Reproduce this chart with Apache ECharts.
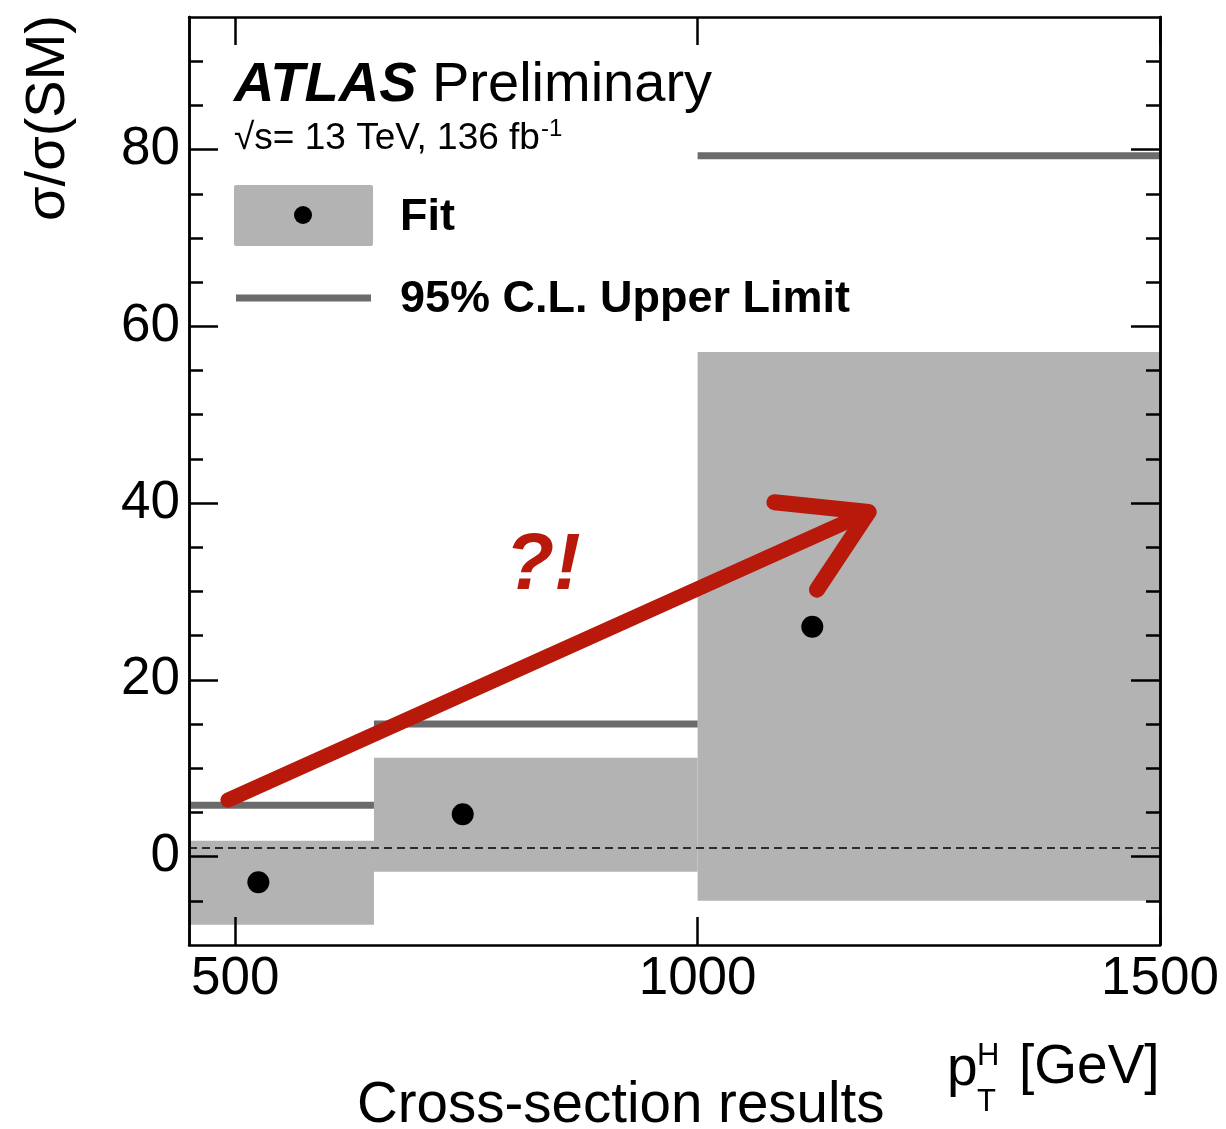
<!DOCTYPE html>
<html>
<head>
<meta charset="utf-8">
<script src="https://cdn.jsdelivr.net/npm/echarts@6/dist/echarts.min.js"></script>
<style>
  html, body { margin: 0; padding: 0; background: #fff; overflow: hidden; }
  #chart { width: 1226px; height: 1129px; }
</style>
</head>
<body>
<div id="chart"></div>
<script>
// pT(H) bins [GeV] and fitted signal strengths per bin
const BIN_EDGES = [450, 650, 1000, 1500];
const FIT_X = [525, 746, 1124];
const FIT_VAL = [-2.9, 4.8, 26.0];
const BAND_LO = [-7.7, -1.7, -5.0];
const BAND_HI = [1.8, 11.2, 57.1];
const LIMIT_95 = [5.8, 15.0, 79.3];
const SM_REF = 1;

// axis ticks
const X_TICKS = [500, 1000, 1500];
const Y_TICKS = [0, 20, 40, 60, 80];
const Y_MINOR = [-5, 5, 10, 15, 25, 30, 35, 45, 50, 55, 65, 70, 75, 85, 90];

// hand-drawn annotation arrow (data space)
const ARROW_SHAFT = [[492, 6.4], [1185, 39.0]];
const ARROW_HEAD = [[1083, 40.1], [1185, 39.0], [1129, 30.2]];

const FONT = '"Liberation Sans", Arial, Helvetica, sans-serif';
const BAND_COLOR = '#b3b3b3';
const LIMIT_COLOR = '#6b6b6b';
const RED = '#b8190b';

const bandData = BAND_LO.map((lo, i) => [BIN_EDGES[i], BIN_EDGES[i + 1], lo, BAND_HI[i]]);
const limitData = LIMIT_95.map((v, i) => [BIN_EDGES[i], BIN_EDGES[i + 1], v]);
const fitData = FIT_VAL.map((v, i) => [FIT_X[i], v]);

const X_MIN = 450, X_MAX = 1500, Y_MIN = -10, Y_MAX = 95;
const axisLineStyle = { color: '#000', width: 2.5 };

// text widths for placing the superscript after the luminosity line
const measure = document.createElement('canvas').getContext('2d');
function textWidth(str, size) {
  measure.font = size + 'px ' + FONT;
  return measure.measureText(str).width;
}
const LUMI_TEXT = '\u221As= 13 TeV, 136 fb';
const LUMI_SIZE = 37;
const LUMI_X = 234;
const lumiEnd = LUMI_X + textWidth(LUMI_TEXT, LUMI_SIZE);

function xAxisDef(pos, showLabel) {
  return {
    type: 'value', position: pos, min: X_MIN, max: X_MAX, z: 5,
    axisLine: { show: true, onZero: false, lineStyle: axisLineStyle },
    axisTick: { show: true, inside: true, length: 28, customValues: X_TICKS, lineStyle: { color: '#000', width: 2.5 } },
    axisLabel: { show: showLabel, customValues: X_TICKS, formatter: v => String(v), fontSize: 53, color: '#000', fontFamily: FONT, margin: 8 },
    splitLine: { show: false }
  };
}
function yAxisDef(pos, ticks, len, showLabel) {
  return {
    type: 'value', position: pos, min: Y_MIN, max: Y_MAX, z: 5,
    axisLine: { show: true, onZero: false, lineStyle: axisLineStyle },
    axisTick: { show: true, inside: true, length: len, customValues: ticks, lineStyle: { color: '#000', width: 2.5 } },
    axisLabel: { show: showLabel, customValues: Y_TICKS, formatter: v => String(v), fontSize: 53, color: '#000', fontFamily: FONT, margin: 9 },
    splitLine: { show: false }
  };
}

const chart = echarts.init(document.getElementById('chart'));
chart.setOption({
  animation: false,
  backgroundColor: '#fff',
  grid: { left: 189, right: 66, top: 17, bottom: 184 },
  xAxis: [xAxisDef('bottom', true), xAxisDef('top', false)],
  yAxis: [
    yAxisDef('left', Y_TICKS, 29, true),
    yAxisDef('left', Y_MINOR, 14, false),
    yAxisDef('right', Y_TICKS, 29, false),
    yAxisDef('right', Y_MINOR, 14, false)
  ],
  series: [
    {
      name: 'Fit band', type: 'custom', z: 1, data: bandData,
      encode: { x: [0, 1], y: [2, 3] },
      renderItem: function (params, api) {
        const a = api.coord([api.value(0), api.value(3)]);
        const b = api.coord([api.value(1), api.value(2)]);
        return { type: 'rect', shape: { x: a[0], y: a[1], width: b[0] - a[0], height: b[1] - a[1] }, style: { fill: BAND_COLOR } };
      }
    },
    {
      name: '95% C.L. Upper Limit', type: 'custom', z: 2, data: limitData,
      encode: { x: [0, 1], y: 2 },
      renderItem: function (params, api) {
        const a = api.coord([api.value(0), api.value(2)]);
        const b = api.coord([api.value(1), api.value(2)]);
        return { type: 'line', shape: { x1: a[0], y1: a[1], x2: b[0], y2: b[1] }, style: { stroke: LIMIT_COLOR, lineWidth: 7 } };
      }
    },
    {
      name: 'Fit', type: 'scatter', z: 3, data: fitData,
      symbol: 'circle', symbolSize: 22, itemStyle: { color: '#000', opacity: 1 },
      markLine: {
        silent: true, symbol: 'none', label: { show: false },
        lineStyle: { color: '#000', width: 1.5, type: [8, 5] },
        data: [{ yAxis: SM_REF }]
      }
    },
    {
      name: 'arrow shaft', type: 'line', z: 4, data: ARROW_SHAFT, symbol: 'none',
      lineStyle: { color: RED, width: 15, cap: 'round', join: 'round' }
    },
    {
      name: 'arrow head', type: 'line', z: 4, data: ARROW_HEAD, symbol: 'none',
      lineStyle: { color: RED, width: 16, cap: 'round', join: 'round' }
    }
  ],
  graphic: [
    { type: 'text', z: 10, style: { x: 234, y: 86, text: 'ATLAS', fontSize: 56, fontWeight: 'bold', fontStyle: 'italic', fontFamily: FONT, fill: '#000', verticalAlign: 'middle' } },
    { type: 'text', z: 10, style: { x: 432, y: 86, text: 'Preliminary', fontSize: 56, fontFamily: FONT, fill: '#000', verticalAlign: 'middle' } },
    { type: 'text', z: 10, style: { x: LUMI_X, y: 139, text: LUMI_TEXT, fontSize: LUMI_SIZE, fontFamily: FONT, fill: '#000', verticalAlign: 'middle' } },
    { type: 'text', z: 10, style: { x: lumiEnd + 1, y: 129, text: '-1', fontSize: 24, fontFamily: FONT, fill: '#000', verticalAlign: 'middle' } },
    // legend
    { type: 'rect', z: 10, shape: { x: 234, y: 185, width: 139, height: 61, r: 2 }, style: { fill: BAND_COLOR } },
    { type: 'circle', z: 11, shape: { cx: 303, cy: 215, r: 9 }, style: { fill: '#000' } },
    { type: 'text', z: 10, style: { x: 400, y: 218, text: 'Fit', fontSize: 45, fontWeight: 'bold', fontFamily: FONT, fill: '#000', verticalAlign: 'middle' } },
    { type: 'line', z: 10, shape: { x1: 236, y1: 298, x2: 371, y2: 298 }, style: { stroke: LIMIT_COLOR, lineWidth: 7 } },
    { type: 'text', z: 10, style: { x: 400, y: 300, text: '95% C.L. Upper Limit', fontSize: 45, fontWeight: 'bold', fontFamily: FONT, fill: '#000', verticalAlign: 'middle' } },
    // annotation
    { type: 'text', z: 10, style: { x: 543, y: 567, text: '?!', fontSize: 80, fontWeight: 'bold', fontStyle: 'italic', fontFamily: FONT, fill: RED, align: 'center', verticalAlign: 'middle' } },
    // axis titles
    { type: 'text', z: 10, x: 49, y: 118, rotation: Math.PI / 2, style: { x: 0, y: 0, text: '\u03C3/\u03C3(SM)', fontSize: 56, fontFamily: FONT, fill: '#000', align: 'center', verticalAlign: 'middle' } },
    { type: 'text', z: 10, style: { x: 947, y: 1070, text: 'p', fontSize: 55, fontFamily: FONT, fill: '#000', verticalAlign: 'middle' } },
    { type: 'text', z: 10, style: { x: 977, y: 1056, text: 'H', fontSize: 31, fontFamily: FONT, fill: '#000', verticalAlign: 'middle' } },
    { type: 'text', z: 10, style: { x: 977, y: 1102, text: 'T', fontSize: 31, fontFamily: FONT, fill: '#000', verticalAlign: 'middle' } },
    { type: 'text', z: 10, style: { x: 1019, y: 1068, text: '[GeV]', fontSize: 55, fontFamily: FONT, fill: '#000', verticalAlign: 'middle' } },
    { type: 'text', z: 10, style: { x: 357, y: 1106, text: 'Cross-section results', fontSize: 56.5, fontFamily: FONT, fill: '#000', verticalAlign: 'middle' } }
  ]
});
</script>
</body>
</html>
